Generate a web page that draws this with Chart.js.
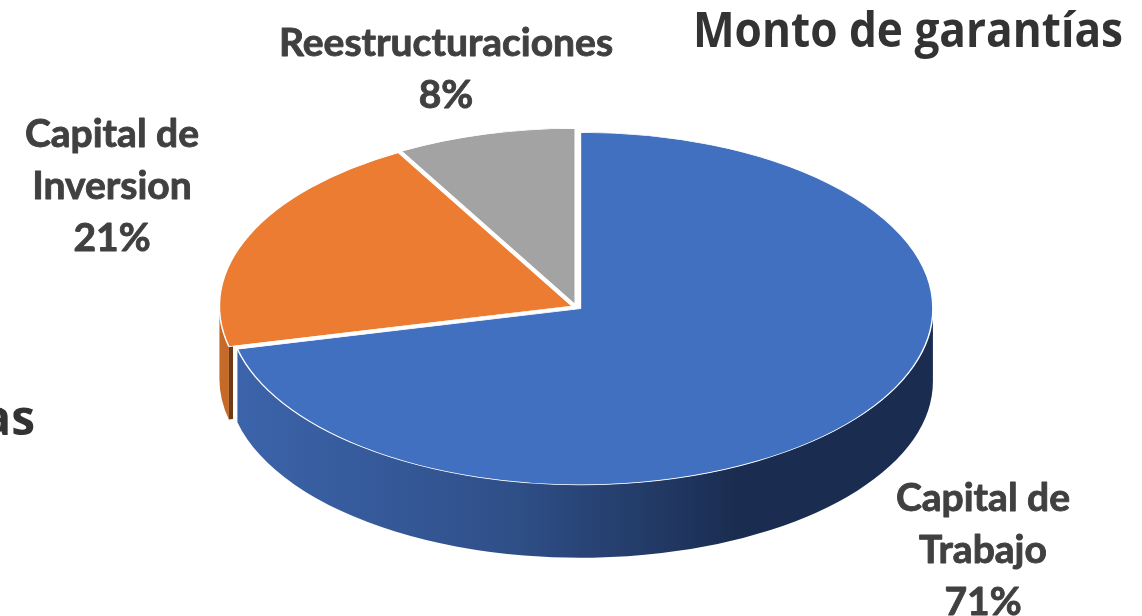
<!DOCTYPE html>
<html>
<head>
<meta charset="utf-8">
<script src="https://cdn.jsdelivr.net/npm/chart.js@4"></script>
<style>
    html, body { margin: 0; padding: 0; background: #fff; overflow: hidden; }
</style>
</head>
<body>
<canvas id="grafico" width="1142" height="616"></canvas>
<script>
const categorias = [["Capital de", "Trabajo"], ["Capital de", "Inversion"], ["Reestructuraciones"]];
const valores = [71.3, 20.5, 8.2]; // o rótulo mostra arredondado
const coresTopo = ["#4170c0", "#eb7c31", "#a3a3a3"];
const tituloTexto = "Monto de garantías";
const textoCortado = "as";

const achatamento = 0.5; // pizza vista em perspectiva
const profundidade = 73; // altura da lateral em pixels
const afastamento = 5; // fatias levemente separadas

// Onde vai cada rótulo (centro da primeira linha)
const posRotulos = [
    { x: 983, y: 498 },
    { x: 112, y: 134 },
    { x: 446, y: 43 }
];

const pizza3d = {
    id: "pizza3d",
    afterDatasetsUpdate(chart) {
        chart.getDatasetMeta(0).data.forEach(arc => {
            const meio = (arc.startAngle + arc.endAngle) / 2;
            arc.x += Math.cos(meio) * afastamento;
            arc.y += Math.sin(meio) * afastamento;
        });
    },
    beforeDatasetsDraw(chart) {
        const ctx = chart.ctx;
        const cy = (chart.chartArea.top + chart.chartArea.bottom) / 2;
        const arcos = chart.getDatasetMeta(0).data;
        const fundo = profundidade / achatamento;

        ctx.save();
        ctx.translate(0, cy);
        ctx.scale(1, achatamento);
        ctx.translate(0, -cy);

        // Lateral da fatia laranja
        const laranja = arcos[1];
        ctx.beginPath();
        ctx.arc(laranja.x, laranja.y, laranja.outerRadius, laranja.startAngle, Math.PI);
        ctx.arc(laranja.x, laranja.y + fundo, laranja.outerRadius, Math.PI, laranja.startAngle, true);
        ctx.closePath();
        ctx.fillStyle = "#c56a28";
        ctx.fill();

        // Face do corte da fatia laranja, so a pontinha aparece
        const px = laranja.x + Math.cos(laranja.startAngle) * laranja.outerRadius;
        const py = laranja.y + Math.sin(laranja.startAngle) * laranja.outerRadius;
        const qx = px + (laranja.x - px) * 0.012;
        const qy = py + (laranja.y - py) * 0.012;
        ctx.beginPath();
        ctx.moveTo(px, py);
        ctx.lineTo(qx, qy);
        ctx.lineTo(qx, qy + fundo);
        ctx.lineTo(px, py + fundo);
        ctx.closePath();
        ctx.fillStyle = "#6f3a14";
        ctx.fill();

        // Lateral da fatia azul
        const azul = arcos[0];
        const grad = ctx.createLinearGradient(235, 0, 933, 0);
        grad.addColorStop(0, "#3c64ab");
        grad.addColorStop(0.4, "#2f4f88");
        grad.addColorStop(0.72, "#1a2d50");
        grad.addColorStop(1, "#1a2d50");
        ctx.beginPath();
        ctx.arc(azul.x, azul.y, azul.outerRadius, 0, azul.endAngle);
        ctx.arc(azul.x, azul.y + fundo, azul.outerRadius, azul.endAngle, 0, true);
        ctx.closePath();
        ctx.fillStyle = grad;
        ctx.fill();
        ctx.restore();

        // Topo da pizza achatado
        ctx.save();
        ctx.translate(0, cy);
        ctx.scale(1, achatamento);
        ctx.translate(0, -cy);
    },
    afterDatasetsDraw(chart) {
        chart.ctx.restore();
    },
    afterDraw(chart) {
        const ctx = chart.ctx;
        ctx.save();
        ctx.textBaseline = "middle";

        // Lato fica fino demais, o contorno engorda a letra
        ctx.font = "700 39px Lato";
        ctx.fillStyle = "#404040";
        ctx.strokeStyle = "#404040";
        ctx.lineWidth = 0.9;
        ctx.lineJoin = "round";
        ctx.textAlign = "center";
        categorias.forEach((linhas, i) => {
            const pos = posRotulos[i];
            [...linhas, Math.round(valores[i]) + "%"].forEach((texto, n) => {
                ctx.fillText(texto, pos.x, pos.y + n * 52);
                ctx.strokeText(texto, pos.x, pos.y + n * 52);
            });
        });

        ctx.font = "700 48px 'Open Sans'";
        ctx.fillStyle = "#333333";
        ctx.textAlign = "right";
        ctx.fillText(textoCortado, 35, 421);

        ctx.textAlign = "left";
        ctx.fillText(tituloTexto, 693, 33, 430);
        ctx.restore();
    }
};

new Chart(document.getElementById("grafico"), {
    type: "pie",
    data: {
        labels: categorias,
        datasets: [{
            data: valores,
            backgroundColor: coresTopo,
            borderColor: "#ffffff",
            borderWidth: 1.5,
            radius: 352.5,
            clip: false
        }]
    },
    options: {
        responsive: false,
        animation: false,
        layout: { padding: { left: 11, bottom: 2 } },
        events: [],
        plugins: {
            legend: { display: false },
            tooltip: { enabled: false }
        }
    },
    plugins: [pizza3d]
});
</script>
</body>
</html>
